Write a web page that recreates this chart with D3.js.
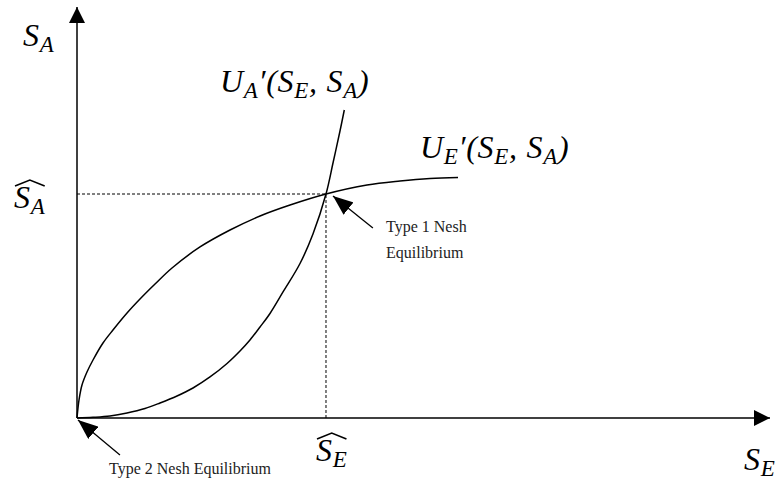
<!DOCTYPE html>
<html>
<head>
<meta charset="utf-8">
<script src="https://cdn.jsdelivr.net/npm/d3@7"></script>
<style>
  body { margin: 0; background: #fff; }
  svg { display: block; }
</style>
</head>
<body>
<svg width="777" height="485"></svg>
<script>
'use strict';
const serif = 'Liberation Serif';

// reaction curves, [S_E, S_A] in arbitrary units (0..100 on each axis)
const ue_points = [
  [0, 0], [0.29, 4.38], [0.72, 8.03], [1.44, 11.19], [2.31, 14.11], [3.75, 18.25],
  [5.19, 21.41], [7.22, 25.55], [9.09, 28.95], [11.26, 32.6], [13.71, 36.5],
  [17.75, 41.61], [22.08, 45.74], [26.41, 49.15], [30.74, 51.82], [35.93, 54.5],
  [41.85, 56.69], [46.61, 57.66], [50.94, 58.27], [54.98, 58.52]
];
const ua_points = [
  [0, 0], [2.31, 0.17], [4.76, 0.49], [7.22, 1.22], [9.81, 2.31], [11.98, 3.65],
  [14.43, 5.35], [16.74, 7.3], [19.19, 9.98], [21.65, 13.26], [23.52, 16.3],
  [24.96, 18.98], [26.41, 22.14], [27.85, 25.43], [29.73, 30.66], [32.18, 37.59],
  [34.05, 44.77], [35.93, 54.5], [36.94, 62.04], [37.95, 69.83], [38.57, 74.94]
];
// Nash point (S_E hat, S_A hat)
const equilibrium = [35.93, 54.5];
const axis_max = [100, 100];

const svg = d3.select('svg');
const x_scale = d3.scaleLinear().domain([0, axis_max[0]]).range([77, 770]);
const y_scale = d3.scaleLinear().domain([0, axis_max[1]]).range([418, 7]);

// arrow markers
const defs = svg.append('defs');
defs.append('marker')
  .attr('id', 'head')
  .attr('viewBox', '0 0 16 16')
  .attr('refX', 16).attr('refY', 8)
  .attr('markerWidth', 16).attr('markerHeight', 16)
  .attr('markerUnits', 'userSpaceOnUse')
  .attr('orient', 'auto')
  .append('path').attr('d', 'M0,0 L16,8 L0,16 Z').attr('fill', '#000');
defs.append('marker')
  .attr('id', 'head_small')
  .attr('viewBox', '0 0 20 16')
  .attr('refX', 20).attr('refY', 8)
  .attr('markerWidth', 20).attr('markerHeight', 16)
  .attr('markerUnits', 'userSpaceOnUse')
  .attr('orient', 'auto')
  .append('path').attr('d', 'M0,0 L20,8 L0,16 Z').attr('fill', '#000');

//axes
svg.append('line')
  .attr('x1', x_scale(0)).attr('y1', y_scale(0))
  .attr('x2', x_scale(0)).attr('y2', y_scale(axis_max[1]))
  .attr('stroke', '#000').attr('stroke-width', 1.5)
  .attr('marker-end', 'url(#head)');
svg.append('line')
  .attr('x1', x_scale(0)).attr('y1', y_scale(0))
  .attr('x2', x_scale(axis_max[0])).attr('y2', y_scale(0))
  .attr('stroke', '#000').attr('stroke-width', 1.5)
  .attr('marker-end', 'url(#head)');

//dashed guides to the equilibrium
svg.append('path')
  .attr('d', `M${x_scale(0)},${y_scale(equilibrium[1])} H${x_scale(equilibrium[0])} V${y_scale(0)}`)
  .attr('fill', 'none').attr('stroke', '#000').attr('stroke-width', 1)
  .attr('stroke-dasharray', '3,2');

//curves
const line = d3.line()
  .x(d => x_scale(d[0]))
  .y(d => y_scale(d[1]))
  .curve(d3.curveCatmullRom.alpha(0.5));
[ue_points, ua_points].forEach(pts => {
  svg.append('path')
    .attr('d', line(pts))
    .attr('fill', 'none').attr('stroke', '#000').attr('stroke-width', 1.5);
});

//math labels: parts are [text, is_subscript]
function math_label(x, y, parts, hat) {
  const t = svg.append('text')
    .attr('font-family', serif).attr('font-style', 'italic')
    .attr('letter-spacing', 0.7)
    .attr('x', x).attr('y', y).attr('font-size', 32);
  let sub = false;
  parts.forEach(p => {
    const ts = t.append('tspan').text(p[0]);
    if (p[1] && !sub) { ts.attr('dy', 6).attr('font-size', 23); sub = true; }
    else if (p[1]) { ts.attr('font-size', 23); }
    else if (sub) { ts.attr('dy', -6); sub = false; }
  });
  if (hat) {
    const bb = t.node().getBBox();
    const hy = y - 28;
    svg.append('path')
      .attr('d', `M${bb.x + 1},${hy + 6} L${bb.x + bb.width / 2},${hy} L${bb.x + bb.width - 1},${hy + 6}`)
      .attr('fill', 'none').attr('stroke', '#000').attr('stroke-width', 1.6);
  }
  return t;
}

math_label(23, 46, [['S', false], ['A', true]]);
math_label(744, 470, [['S', false], ['E', true]]);
math_label(14, 208, [['S', false], ['A', true]], true);
math_label(316, 461, [['S', false], ['E', true]], true);
math_label(220, 92,
  [['U', false], ['A', true], ['\u2032(S', false], ['E', true], [', S', false], ['A', true], [')', false]]);
math_label(420, 158,
  [['U', false], ['E', true], ['\u2032(S', false], ['E', true], [', S', false], ['A', true], [')', false]]);

//annotations
function note(x, y, txt) {
  svg.append('text')
    .attr('font-family', serif).attr('font-size', 16).attr('fill', '#222')
    .attr('x', x).attr('y', y).text(txt);
}
const type1_tail = [42.7, 46.2];
svg.append('line')
  .attr('x1', x_scale(type1_tail[0])).attr('y1', y_scale(type1_tail[1]))
  .attr('x2', x_scale(equilibrium[0]) + 7).attr('y2', y_scale(equilibrium[1]) + 2)
  .attr('stroke', '#000').attr('stroke-width', 1.3)
  .attr('marker-end', 'url(#head_small)');
note(386, 232, 'Type 1 Nesh');
note(386, 258, 'Equilibrium');

const type2_tail = [6.2, -9.0];
svg.append('line')
  .attr('x1', x_scale(type2_tail[0])).attr('y1', y_scale(type2_tail[1]))
  .attr('x2', x_scale(0) + 1).attr('y2', y_scale(0) + 2)
  .attr('stroke', '#000').attr('stroke-width', 1.3)
  .attr('marker-end', 'url(#head_small)');
note(109, 474, 'Type 2 Nesh Equilibrium');
</script>
</body>
</html>
